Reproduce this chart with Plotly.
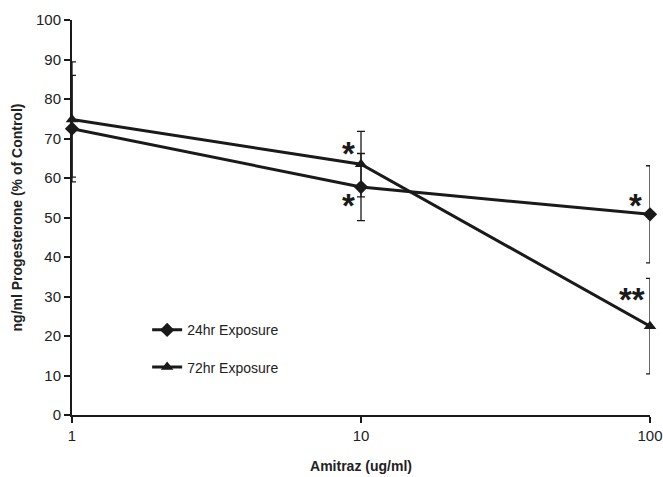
import math
import plotly.graph_objects as go

conc = [1, 10, 100]
h24 = [72.5, 57.7, 50.8]
h24_err = [13.5, 8.5, 12.3]
h72 = [74.8, 63.5, 22.5]
h72_err = [14.6, 8.3, 12.1]
x_ticks = [1, 10, 100]
x_tick_labels = ["1", "10", "100"]
y_ticks = list(range(0, 101, 10))

# significance marks: (x, y, text)
sig_marks = [(10, 63.5, "*"), (10, 57.7, "*"), (100, 50.8, "*"), (100, 22.5, "**")]
sig_offsets = [(-4, 11), (-4, -18), (-6, 9), (-3, 27)]

fig = go.Figure()
fig.add_trace(go.Scatter(
    x=conc, y=h24, name="24hr Exposure", mode="lines+markers",
    line=dict(color="#1a1a1a", width=3),
    marker=dict(symbol="diamond", size=11, color="#1a1a1a"),
    error_y=dict(type="data", array=h24_err, color="#1a1a1a", thickness=1.3, width=4),
    legendgroup="a", cliponaxis=False))
fig.add_trace(go.Scatter(
    x=conc, y=h72, name="72hr Exposure", mode="lines+markers",
    line=dict(color="#1a1a1a", width=3),
    marker=dict(symbol="triangle-up", size=11, color="#1a1a1a"),
    error_y=dict(type="data", array=h72_err, color="#1a1a1a", thickness=1.3, width=4),
    legendgroup="b", cliponaxis=False))

for (xv, yv, txt), (dx, dy) in zip(sig_marks, sig_offsets):
    fig.add_annotation(x=math.log10(xv), xref="x", y=yv, yref="y", text="<b>%s</b>" % txt,
                       showarrow=False, xanchor="right", yanchor="middle",
                       xshift=dx, yshift=dy,
                       font=dict(size=33, color="#1a1a1a", family="Liberation Sans"))

fig.update_layout(
    width=663, height=477,
    margin=dict(l=72, r=13, t=20, b=62),
    paper_bgcolor="white", plot_bgcolor="white",
    font=dict(family="Liberation Sans, Arial", size=15, color="#222"),
    showlegend=True,
    legend=dict(x=0.13, y=0.255, xanchor="left", yanchor="top",
                bgcolor="rgba(0,0,0,0)", font=dict(size=14, color="#222"),
                tracegroupgap=16, traceorder="grouped"),
    xaxis=dict(type="log", range=[0, 2], tickvals=x_ticks, ticktext=x_tick_labels,
               showgrid=False, zeroline=False, showline=True, linecolor="#1a1a1a",
               linewidth=2, ticks="outside", ticklen=6, tickwidth=1.5, tickcolor="#1a1a1a",
               automargin=False,
               title=dict(text="<b>Amitraz (ug/ml)</b>", font=dict(size=14), standoff=18)),
    yaxis=dict(range=[0, 100], tickvals=y_ticks, showgrid=False, zeroline=False,
               showline=True, linecolor="#1a1a1a", linewidth=2, ticks="outside",
               ticklen=6, tickwidth=1.5, tickcolor="#1a1a1a", automargin=False,
               title=dict(text="<b>ng/ml Progesterone (% of Control)</b>", font=dict(size=14), standoff=10)),
)

fig.write_html("out.html", config={"displayModeBar": False},
               post_script="document.body.style.margin='0';document.body.style.overflow='hidden';")
